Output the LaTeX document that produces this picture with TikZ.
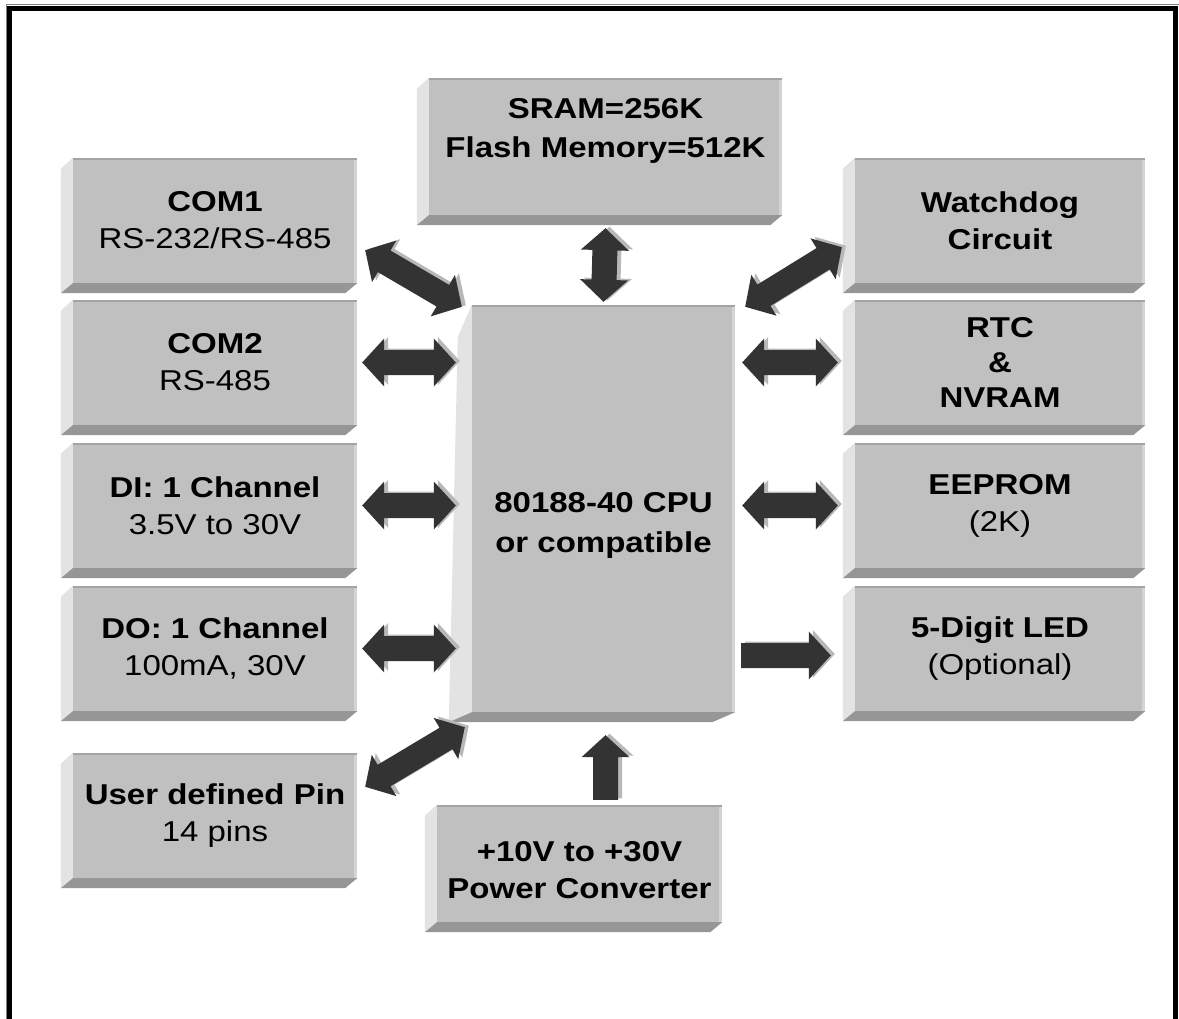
\documentclass[tikz,border=0pt]{standalone}
\usepackage{fontspec}
\setmainfont{Liberation Sans}[FakeStretch=1.15]
\usetikzlibrary{calc}

\definecolor{face}{HTML}{C0C0C0}
\definecolor{sideface}{HTML}{E3E3E3}
\definecolor{baseface}{HTML}{969696}
\definecolor{topline}{HTML}{A4A4A4}
\definecolor{rightline}{HTML}{D4D4D4}
\definecolor{arrowfill}{HTML}{333333}
\definecolor{arrowshade}{HTML}{B8B8B8}

\tikzset{
  blk/.style={fill=face, inner sep=0pt, align=center,
    font=\fontsize{28.7}{37}\selectfont\bfseries},
  txt/.style={inner sep=0pt, align=center},
  lbox/.style={blk, minimum width=284pt, minimum height=125pt},
  rbox/.style={blk, minimum width=290pt, minimum height=125pt},
}
\newcommand\regular{\fontsize{28.7}{37}\selectfont\mdseries}

% extruded left and bottom faces of a box node
\newcommand\bevel[3]{%
  \fill[sideface] ($(#1.north west)+(#2)$) -- (#1.north west) -- (#1.south west) -- ($(#1.south west)+(#3)$) -- cycle;
  \fill[baseface] ($(#1.south west)+(#3)$) -- (#1.south west) -- (#1.south east) -- ($(#1.south east)+(#3)$) -- cycle;
  \draw[topline, line width=2pt] ($(#1.north west)+(0,1)$) -- ($(#1.north east)+(0,1)$);
  \draw[rightline, line width=3pt] ($(#1.north east)+(-1.5,2)$) -- ($(#1.south east)+(-1.5,0)$);
}

% block arrow sizes
\def\hl{22pt}\def\hw{24pt}\def\sw{12.5pt}

% double-headed block arrow from #2 to #3, drawn with style #1, shifted by #4
\newcommand\dblpoly[4]{%
  \fill[#1] let \p1=($(#2)+(#4)$), \p2=($(#3)+(#4)$), \n1={atan2(\y2-\y1,\x2-\x1)} in
    (\p1) -- ($(\p1)+(\n1:\hl)+({\n1+90}:\hw)$) -- ($(\p1)+(\n1:\hl)+({\n1+90}:\sw)$)
    -- ($(\p2)+({\n1+180}:\hl)+({\n1+90}:\sw)$) -- ($(\p2)+({\n1+180}:\hl)+({\n1+90}:\hw)$)
    -- (\p2) -- ($(\p2)+({\n1+180}:\hl)+({\n1-90}:\hw)$) -- ($(\p2)+({\n1+180}:\hl)+({\n1-90}:\sw)$)
    -- ($(\p1)+(\n1:\hl)+({\n1-90}:\sw)$) -- ($(\p1)+(\n1:\hl)+({\n1-90}:\hw)$) -- cycle;
}
% single-headed block arrow from tail #2 to tip #3
\newcommand\sglpoly[4]{%
  \fill[#1] let \p1=($(#2)+(#4)$), \p2=($(#3)+(#4)$), \n1={atan2(\y2-\y1,\x2-\x1)} in
    ($(\p1)+({\n1+90}:\sw)$)
    -- ($(\p2)+({\n1+180}:\hl)+({\n1+90}:\sw)$) -- ($(\p2)+({\n1+180}:\hl)+({\n1+90}:\hw)$)
    -- (\p2) -- ($(\p2)+({\n1+180}:\hl)+({\n1-90}:\hw)$) -- ($(\p2)+({\n1+180}:\hl)+({\n1-90}:\sw)$)
    -- ($(\p1)+({\n1-90}:\sw)$) -- cycle;
}
\newcommand\dblarrow[2]{\dblpoly{arrowshade}{#1}{#2}{4pt,1.5pt}\dblpoly{arrowfill}{#1}{#2}{0pt,0pt}}
\newcommand\sglarrow[2]{\sglpoly{arrowshade}{#1}{#2}{4pt,1.5pt}\sglpoly{arrowfill}{#1}{#2}{0pt,0pt}}

\begin{document}
\begin{tikzpicture}[x=1pt, y=-1pt]
\useasboundingbox (0,0) rectangle (1179,1019);

% outer frame
\draw[gray, line width=1pt] (6,1025) -- (6,5) -- (1179,5);
\draw[line width=5pt] (9,1025) -- (9,8.5) -- (1175.5,8.5) -- (1175.5,1025);

% memory, CPU and power blocks
\node[blk, minimum width=353pt, minimum height=137pt] (sram) at (605.5,146.5) {};
\node[txt, font=\fontsize{28.7}{39}\selectfont\bfseries] (sramtxt) at (605.5,131)
  {SRAM=256K\\Flash Memory=512K};
\node[blk, minimum width=263pt, minimum height=407pt] (cpu) at (603.5,508.5) {};
\node[txt, font=\fontsize{28.7}{40}\selectfont\bfseries] (cputxt) at (603.5,525)
  {80188-40 CPU\\or compatible};
\node[blk, minimum width=285pt, minimum height=117pt] (pwr) at (579.5,863.5) {};
\node[txt, font=\fontsize{28.7}{37}\selectfont\bfseries] (pwrtxt) at (579.5,870.5)
  {+10V to +30V\\Power Converter};

% left column
\node[lbox] (com1) at (215,220.5) {COM1\\\regular RS-232/RS-485};
\node[lbox] (com2) at (215,362.5) {COM2\\\regular RS-485};
\node[lbox] (di)   at (215,505.5) {DI: 1 Channel\\\regular 3.5V to 30V};
\node[lbox] (do)   at (215,648.5) {DO: 1 Channel\\\regular 100mA, 30V};
\node[lbox] (usr)  at (215,815.5) {User defined Pin\\\regular 14 pins};

% right column
\node[rbox] (wdt)  at (1000,220.5) {Watchdog\\Circuit};
\node[rbox, font=\fontsize{28.7}{35}\selectfont\bfseries] (rtc) at (1000,362.5) {RTC\\\&\\NVRAM};
\node[rbox] (eep)  at (1000,505.5) {EEPROM\\\regular (2K)};
\node[rbox] (led)  at (1000,648.5) {5-Digit LED\\\regular (Optional)};

\foreach \b in {sram,com1,com2,di,do,usr,wdt,rtc,eep,led,pwr}{\bevel{\b}{-12,11}{-12,10}}
\bevel{cpu}{-14,32}{-23,10}

% connectors
\dblarrow{$(com1.south east)+(8,-33)$}{$(cpu.north west)+(-10,2)$}
\dblarrow{$(com2.east)+(5,0)$}{$(cpu.west|-com2.east)+(-16,0)$}
\dblarrow{$(di.east)+(5,0)$}{$(cpu.west|-di.east)+(-16,0)$}
\dblarrow{$(do.east)+(5,0)$}{$(cpu.west|-do.east)+(-16,0)$}
\dblarrow{$(usr.north east)+(8,34)$}{$(cpu.south west)+(-7,15)$}
\dblarrow{$(sram.south)+(0,13)$}{$(cpu.north)+(0,-3)$}
\dblarrow{$(cpu.north east)+(10,2)$}{$(wdt.south west)+(-13,-36)$}
\dblarrow{$(cpu.east|-rtc.west)+(7,0)$}{$(rtc.west)+(-17,0)$}
\dblarrow{$(cpu.east|-eep.west)+(7,0)$}{$(eep.west)+(-17,0)$}
\sglarrow{$(cpu.east|-led.west)+(6,7)$}{$(led.west)+(-24,7)$}
\sglarrow{$(pwr.north-|sram.south)+(0,-5)$}{$(cpu.south-|sram.south)+(0,23)$}
\end{tikzpicture}
\end{document}
